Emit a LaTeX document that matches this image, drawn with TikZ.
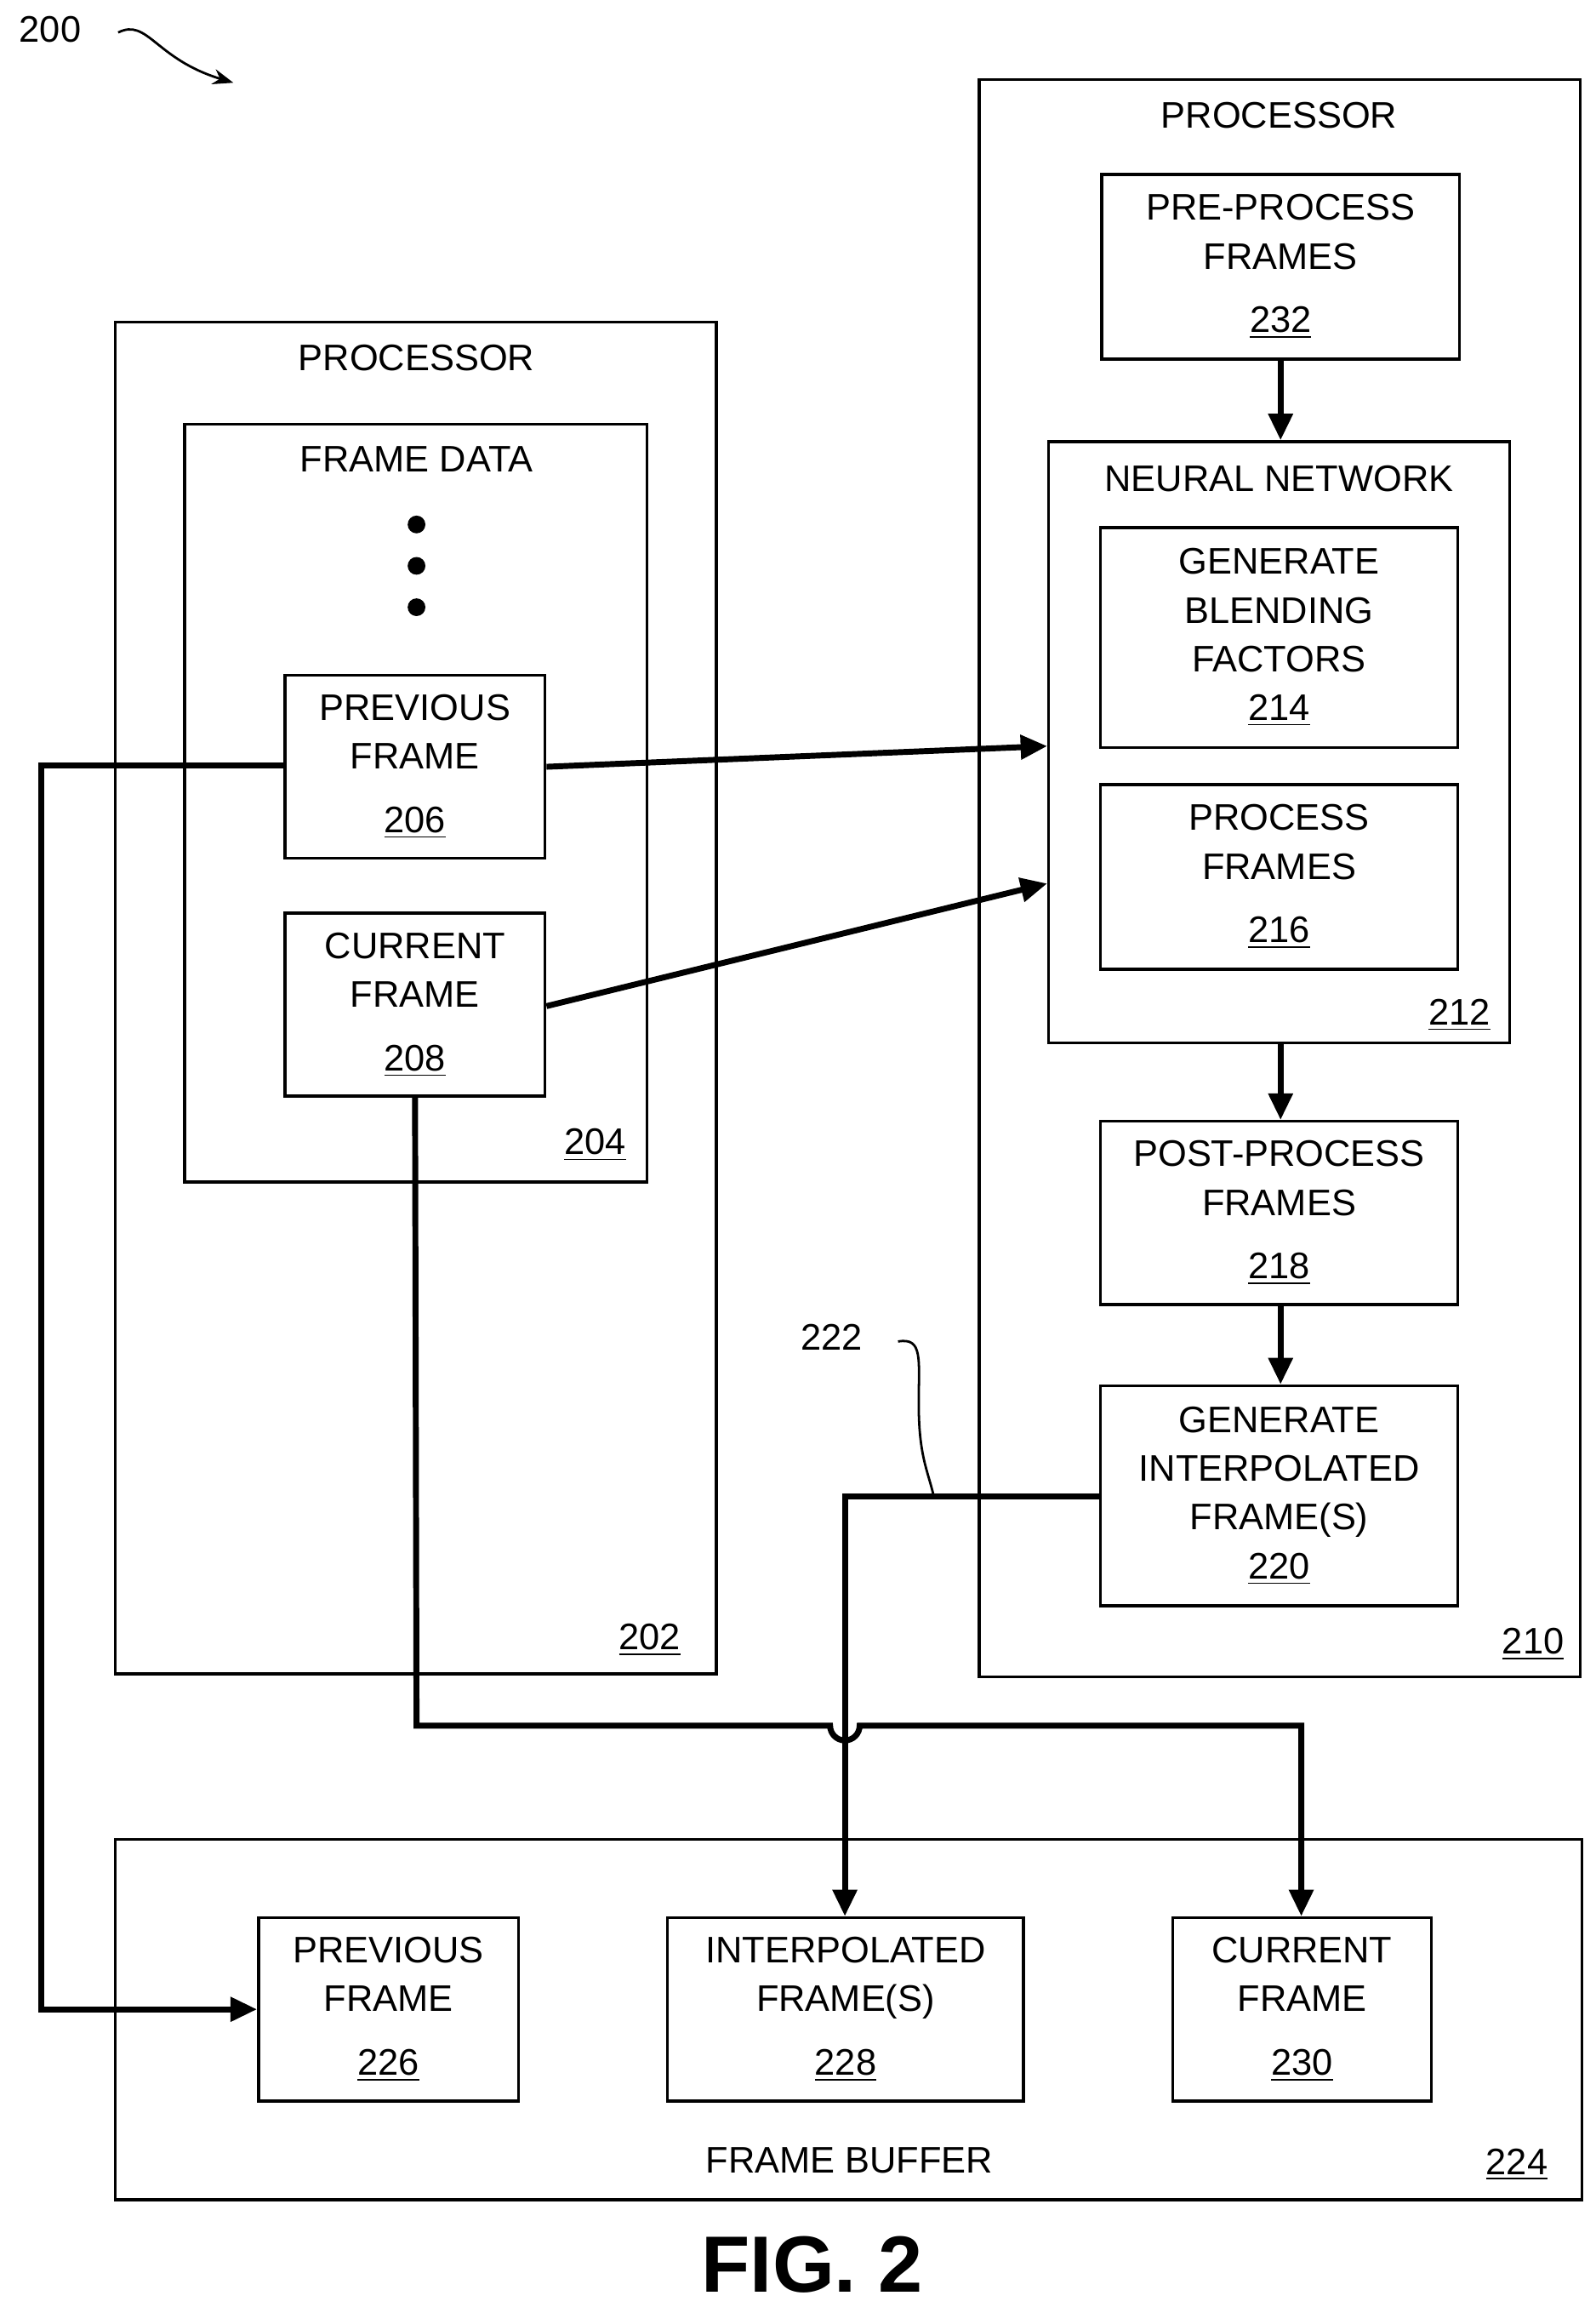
\documentclass[tikz,border=0pt]{standalone}
\usepackage{fontspec}
\setmainfont{Liberation Sans}
\usetikzlibrary{arrows.meta,fit}

\tikzset{
  box/.style={draw, line width=1pt, inner sep=0pt},
  txt/.style={align=center, inner sep=0pt, font=\fontsize{12.5}{16.5}\selectfont},
  frame/.style={draw, line width=1pt, inner sep=0pt},
  lbl/.style={font=\fontsize{12.5}{15}\selectfont},
  flow/.style={line width=2pt, -{Triangle[length=9pt,width=8pt]}},
}

\begin{document}
\begin{tikzpicture}[x=0.5pt, y=-0.5pt]
\useasboundingbox (0,0) rectangle (1080,1561.5);

% Ref labels
\node[lbl] (n200) at (34,20) {200};
\draw[line width=0.8pt, -{Stealth[length=7pt]}] (80,22) .. controls (100,12) and (105,40) .. (158,56);
\node[lbl] (n222) at (563,905) {222};

% Containers
\node[frame, fit={(78,218) (485,1133)}] (p202) {};
\node[lbl] at (282,242) {PROCESSOR};
\node[lbl] at (440,1110) {\underline{202}};
\node[frame, fit={(125,287) (438,800)}] (fd204) {};
\node[lbl] at (282,311) {FRAME DATA};
\node[lbl] at (403,775) {\underline{204}};
\foreach \y in {355,383,411} \fill (282,\y) circle (6);

\node[frame, fit={(663,54) (1070,1135)}] (p210) {};
\node[lbl] at (866,78) {PROCESSOR};
\node[lbl] at (1038,1113) {\underline{210}};
\node[frame, fit={(710,299) (1022,706)}] (nn212) {};
\node[lbl] at (866,324) {NEURAL NETWORK};
\node[lbl] at (988,687) {\underline{212}};

\node[frame, fit={(78,1245) (1071,1489)}] (fb224) {};
\node[lbl] at (575,1462) {FRAME BUFFER};
\node[lbl] at (1027,1465) {\underline{224}};

% Boxes
\node[box, fit={(193,457) (369,581)}] (prev206) {};
\node[txt] at (prev206.center) {PREVIOUS\\FRAME\\[5pt]\underline{206}};
\node[box, fit={(193,618) (369,742)}] (cur208) {};
\node[txt] at (cur208.center) {CURRENT\\FRAME\\[5pt]\underline{208}};
\node[box, fit={(746,118) (988,243)}] (pre232) {};
\node[txt] at (pre232.center) {PRE-PROCESS\\FRAMES\\[5pt]\underline{232}};
\node[box, fit={(745,357) (987,506)}] (blend214) {};
\node[txt] at (blend214.center) {GENERATE\\BLENDING\\FACTORS\\\underline{214}};
\node[box, fit={(745,531) (987,656)}] (proc216) {};
\node[txt] at (proc216.center) {PROCESS\\FRAMES\\[5pt]\underline{216}};
\node[box, fit={(745,759) (987,883)}] (post218) {};
\node[txt] at (post218.center) {POST-PROCESS\\FRAMES\\[5pt]\underline{218}};
\node[box, fit={(745,938) (987,1087)}] (gen220) {};
\node[txt] at (gen220.center) {GENERATE\\INTERPOLATED\\FRAME(S)\\\underline{220}};
\node[box, fit={(175,1298) (351,1422)}] (prev226) {};
\node[txt] at (prev226.center) {PREVIOUS\\FRAME\\[5pt]\underline{226}};
\node[box, fit={(452,1298) (693,1422)}] (int228) {};
\node[txt] at (int228.center) {INTERPOLATED\\FRAME(S)\\[5pt]\underline{228}};
\node[box, fit={(794,1298) (969,1422)}] (cur230) {};
\node[txt] at (cur230.center) {CURRENT\\FRAME\\[5pt]\underline{230}};

% Arrows
\draw[flow] (prev206.east |- 0,519) -- (nn212.west |- 0,505);
\draw[flow] (cur208.east |- 0,681) -- (nn212.west |- 0,598);
\draw[flow] (pre232.south) -- (nn212.north -| pre232.south);
\draw[flow] (nn212.south -| pre232.south) -- (post218.north -| pre232.south);
\draw[flow] (post218.south -| pre232.south) -- (gen220.north -| pre232.south);
\draw[flow] (gen220.west |- 0,1013) -- (572,1013) -- (int228.north -| 572,0);
\draw[flow] (cur208.south) -- (282,1168) -- (562,1168) arc (180:0:10) -- (881,1168) -- (cur230.north -| 881,0);
\draw[flow] (prev206.west |- 0,518) -- (28,518) -- (28,1360) -- (prev226.west |- 0,1360);

% Leader 222
\draw[line width=0.8pt] (608,908) .. controls (625,905) and (622,920) .. (622,950) .. controls (622,985) and (628,995) .. (632,1012);

\node[font=\bfseries\fontsize{27}{30}\selectfont] (fig) at (550,1533) {FIG. 2};
\end{tikzpicture}
\end{document}
